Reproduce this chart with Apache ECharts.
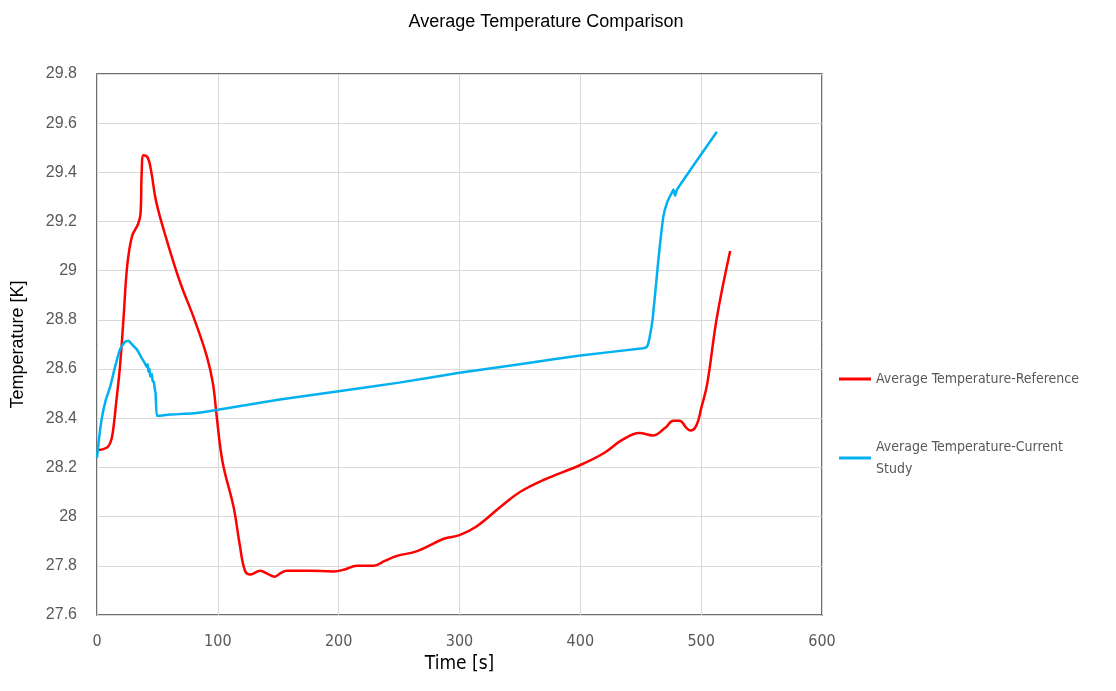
<!DOCTYPE html>
<html>
<head>
<meta charset="utf-8">
<script src="https://cdn.jsdelivr.net/npm/echarts@6/dist/echarts.min.js"></script>
<style>
  html, body { margin: 0; padding: 0; background: #fff; }
  #chart { width: 1116px; height: 691px; }
</style>
</head>
<body>
<div id="chart"></div>
<script>
// 参考结果 (time [s], temperature [K])
const refTime = [0, 8, 11, 13, 16, 19, 22, 25, 29, 34, 36, 37, 38.5, 42, 45, 49, 58, 69, 80, 91, 96, 99, 104, 113, 118, 122.5, 127, 135, 142, 147, 152, 157, 175, 196, 205, 215, 229, 238, 248, 265, 287, 300, 314, 334, 350, 370, 400, 420, 434, 449, 460, 470, 477, 482, 488, 491, 496, 500, 505, 513, 524];
const refTemp = [28.27, 28.28, 28.30, 28.34, 28.47, 28.61, 28.81, 29.02, 29.14, 29.19, 29.23, 29.40, 29.47, 29.46, 29.40, 29.28, 29.12, 28.95, 28.81, 28.65, 28.54, 28.41, 28.22, 28.04, 27.89, 27.78, 27.765, 27.78, 27.765, 27.756, 27.77, 27.78, 27.78, 27.777, 27.785, 27.80, 27.80, 27.82, 27.84, 27.86, 27.91, 27.925, 27.96, 28.04, 28.10, 28.15, 28.21, 28.26, 28.31, 28.34, 28.33, 28.36, 28.39, 28.39, 28.36, 28.35, 28.37, 28.44, 28.54, 28.81, 29.08];

// 本研究结果
const curTime = [0, 2, 4, 7, 11, 15, 19, 23, 26, 29, 33, 37, 40, 41, 42, 42.5, 43.5, 44, 45.5, 46, 47, 47.5, 48.5, 49.5, 52, 60, 80, 100, 150, 200, 250, 300, 350, 400, 452, 455, 457, 460, 464.5, 468.7, 472, 476, 477, 478.4, 480, 513];
const curTemp = [28.24, 28.33, 28.40, 28.47, 28.53, 28.61, 28.68, 28.71, 28.715, 28.70, 28.68, 28.645, 28.62, 28.61, 28.62, 28.59, 28.60, 28.57, 28.58, 28.55, 28.55, 28.53, 28.50, 28.41, 28.41, 28.415, 28.42, 28.435, 28.475, 28.51, 28.545, 28.585, 28.62, 28.655, 28.685, 28.69, 28.72, 28.81, 29.04, 29.22, 29.28, 29.32, 29.33, 29.305, 29.33, 29.565];

const seriesNames = ["Average Temperature-Reference", "Average Temperature-Current Study"];

const zip = (xs, ys) => xs.map((x, i) => [x, ys[i]]);
const narrow = "'DejaVu Sans Condensed', 'Liberation Sans', sans-serif";

const chart = echarts.init(document.getElementById("chart"));
chart.setOption({
  backgroundColor: "#fff",
  animation: false,
  title: {
    text: "Average Temperature Comparison",
    left: 541,
    textAlign: "center",
    top: 8,
    textStyle: { fontFamily: "Liberation Sans", fontSize: 18, fontWeight: "normal", color: "#000" }
  },
  grid: {
    left: 97, right: 294, top: 74, bottom: 76,
    show: true, borderColor: "#404040", borderWidth: 1.5
  },
  legend: {
    orient: "vertical",
    left: 834,
    top: 358,
    itemGap: 36,
    itemWidth: 32,
    itemHeight: 3,
    icon: "rect",
    data: seriesNames,
    formatter: name => name.replace("Current Study", "Current\nStudy"),
    textStyle: { fontFamily: narrow, fontSize: 14, color: "#595959", lineHeight: 22, padding: [10, 0, 0, 0] }
  },
  xAxis: {
    type: "value",
    min: 0, max: 600, interval: 100,
    name: "Time [s]",
    nameLocation: "middle",
    nameGap: 38,
    nameTextStyle: { fontFamily: narrow, fontSize: 19, color: "#000" },
    axisLine: { show: false },
    axisTick: { show: false },
    axisLabel: { fontFamily: narrow, fontSize: 16, color: "#595959", margin: 19 },
    splitLine: { show: true, lineStyle: { color: "#d9d9d9", width: 1 } }
  },
  yAxis: {
    type: "value",
    min: 27.6, max: 29.8, interval: 0.2,
    name: "Temperature [K]",
    nameLocation: "middle",
    nameGap: 70,
    nameTextStyle: { fontFamily: "Liberation Sans", fontSize: 18, color: "#000" },
    axisLine: { show: false },
    axisTick: { show: false },
    axisLabel: {
      fontFamily: "Liberation Sans", fontSize: 16, color: "#595959", margin: 20,
      formatter: v => String(parseFloat(v.toFixed(1)))
    },
    splitLine: { show: true, lineStyle: { color: "#d9d9d9", width: 1 } }
  },
  series: [
    {
      name: seriesNames[0],
      type: "line",
      data: zip(refTime, refTemp),
      smooth: 0.4,
      showSymbol: false,
      lineStyle: { color: "#ff0000", width: 2.5 },
      itemStyle: { color: "#ff0000" }
    },
    {
      name: seriesNames[1],
      type: "line",
      data: zip(curTime, curTemp),
      smooth: 0.15,
      showSymbol: false,
      lineStyle: { color: "#00b0f0", width: 2.5 },
      itemStyle: { color: "#00b0f0" }
    }
  ]
});
</script>
</body>
</html>
